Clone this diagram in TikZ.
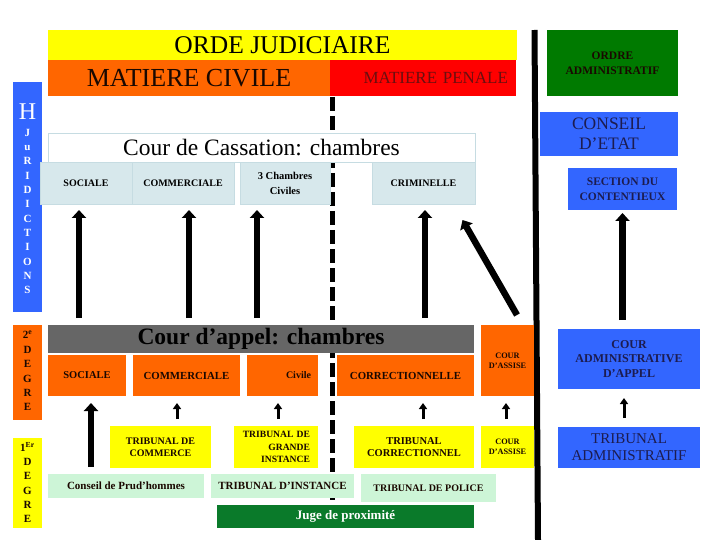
\documentclass[tikz,border=0pt]{standalone}
\usepackage{fontspec}
\setmainfont{Liberation Serif}
\usetikzlibrary{arrows.meta,calc}
\definecolor{cyel}{HTML}{FFFF00}
\definecolor{corg}{HTML}{FF6600}
\definecolor{cred}{HTML}{FF0000}
\definecolor{cgreen}{HTML}{007A00}
\definecolor{cblue}{HTML}{3366FF}
\definecolor{cgray}{HTML}{666666}
\definecolor{clb}{HTML}{D7E8EC}
\definecolor{cbord}{HTML}{C6DCE2}
\definecolor{clg}{HTML}{CDF5D7}
\definecolor{cjuge}{HTML}{0A7A2A}
\definecolor{cnavy}{HTML}{1C1C50}
\definecolor{cdark}{HTML}{1A0800}
\definecolor{cpen}{HTML}{6B0F0F}
\newcommand{\fsz}[2]{\fontsize{#1}{#2}\selectfont}
\begin{document}
\begin{tikzpicture}[x=1pt,y=-1pt,
  box/.style={anchor=north west, inner sep=0pt, outer sep=0pt, align=center},
  bigarr/.style={line width=6.5pt, -{Triangle[width=14pt,length=8pt]}},
  smallarr/.style={line width=3pt, -{Triangle[width=8pt,length=6pt]}},
  dashline/.style={line width=5pt, dash pattern=on 14pt off 5pt},
]
\useasboundingbox (0,0) rectangle (720,540);
\fill[white] (0,0) rectangle (720,540);

% ---- separators (behind the boxes)
\coordinate (vtop) at (534.5,30);
\coordinate (vbot) at (538,540);
\draw[line width=6pt] (vtop) -- (vbot);
\coordinate (dtop) at (332,97);
\coordinate (dbot) at (332,500);
\draw[dashline] (dtop) -- (dbot);

% ---- header
\node[box, fill=cyel, minimum width=469, minimum height=30, font=\fsz{25.5}{26}] (ordj) at (48,30) {ORDE JUDICIAIRE};
\node[box, fill=corg, minimum width=282, minimum height=36, font=\fsz{26}{27}, text=cdark] (civ) at (48,60) {MATIERE CIVILE};
\node[box, fill=cred, minimum width=186, minimum height=36, inner xsep=8pt, text width=170pt, align=right, font=\fsz{17}{18}, text=cpen] (pen) at (330,60) {MATIERE PENALE};

% ---- administrative side
\node[box, fill=cgreen, minimum width=131, minimum height=66, font=\bfseries\fsz{11.5}{15}, text=cdark] (oadm) at (547,30) {ORDRE\\ADMINISTRATIF};
\node[box, fill=cblue, minimum width=138, minimum height=44, font=\fsz{17.5}{20}, text=cnavy] (ce) at (540,112) {CONSEIL\\D’ETAT};
\node[box, fill=cblue, minimum width=109, minimum height=42, font=\bfseries\fsz{11.5}{15}, text=cnavy] (sect) at (568,168) {SECTION DU\\CONTENTIEUX};
\node[box, fill=cblue, minimum width=142, minimum height=60, font=\bfseries\fsz{12}{14.5}, text=cnavy] (cad) at (558,329) {COUR\\ADMINISTRATIVE\\D’APPEL};
\node[box, fill=cblue, minimum width=142, minimum height=41, font=\fsz{15}{17}, text=cnavy] (ta) at (558,427) {TRIBUNAL\\ADMINISTRATIF};

% ---- left column
\node[box, fill=cblue, minimum width=29, minimum height=230] (hcol) at (13,82) {};
\node[font=\fsz{24}{24}, text=white, inner sep=0pt] (hlet) at (27.5,112) {H};
\node[font=\bfseries\fsz{11}{14.3}, text=white, align=center, inner sep=0pt] (jur) at (27.5,211.5) {J\\u\\R\\I\\D\\I\\C\\T\\I\\O\\N\\S};
\node[box, fill=corg, minimum width=29, minimum height=95] (deg2) at (13,325) {};
\node[font=\bfseries\fsz{11}{14.4}, text=cdark, align=center, inner sep=0pt] (deg2t) at (27.5,371) {2\textsuperscript{e}\\D\\E\\G\\R\\E};
\node[box, fill=cyel, minimum width=29, minimum height=90] (deg1) at (13,438) {};
\node[font=\bfseries\fsz{11}{14.3}, text=cdark, align=center, inner sep=0pt] (deg1t) at (27.5,482.5) {1\textsuperscript{Er}\\D\\E\\G\\R\\E};

% ---- Cour de cassation
\node[box, fill=white, draw=cbord, minimum width=427, minimum height=29, font=\fsz{23.5}{24}] (cass) at (48,133) {Cour de Cassation: chambres};
\node[box, fill=clb, draw=cbord, minimum width=92, minimum height=42, font=\bfseries\fsz{10}{12}] (cassoc) at (40,162) {SOCIALE};
\node[box, fill=clb, draw=cbord, minimum width=102, minimum height=42, font=\bfseries\fsz{10}{12}] (cascom) at (132,162) {COMMERCIALE};
\node[box, fill=clb, draw=cbord, minimum width=90, minimum height=42, font=\bfseries\fsz{10.5}{15}] (casciv) at (240,162) {3 Chambres\\Civiles};
\node[box, fill=clb, draw=cbord, minimum width=103, minimum height=42, font=\bfseries\fsz{10}{12}] (cascrim) at (372,162) {CRIMINELLE};

% ---- Cour d'appel
\node[box, fill=cgray, minimum width=426, minimum height=28, font=\bfseries\fsz{23.5}{24}, text=black] (appel) at (48,325) {Cour d’appel: chambres};
\node[box, fill=corg, minimum width=78, minimum height=41, font=\bfseries\fsz{10.5}{12}, text=cdark] (appsoc) at (48,355) {SOCIALE};
\node[box, fill=corg, minimum width=107, minimum height=41, font=\bfseries\fsz{10.8}{12}, text=cdark] (appcom) at (133,355) {COMMERCIALE};
\node[box, fill=corg, minimum width=71, minimum height=41, inner xsep=7pt, text width=57pt, align=right, font=\bfseries\fsz{10}{12}, text=cdark] (appciv) at (247,355) {Civile};
\node[box, fill=corg, minimum width=137, minimum height=41, font=\bfseries\fsz{10.8}{12}, text=cdark] (appcor) at (337,355) {CORRECTIONNELLE};
\node[box, fill=corg, minimum width=53, minimum height=71, font=\bfseries\fsz{8.3}{10}, text=cdark] (assise1) at (481,325) {COUR\\D’ASSISE};

% ---- premier degre
\node[box, fill=cyel, minimum width=101, minimum height=42, font=\bfseries\fsz{10}{12.5}, text=cdark] (tc) at (110,426) {TRIBUNAL DE\\COMMERCE};
\node[box, fill=cyel, minimum width=84, minimum height=42, inner xsep=8pt, text width=68pt, align=right, font=\bfseries\fsz{9.6}{12.8}, text=cdark] (tgi) at (234,426) {TRIBUNAL DE\\GRANDE\\INSTANCE};
\node[box, fill=cyel, minimum width=120, minimum height=42, font=\bfseries\fsz{10.5}{12.5}, text=cdark] (tcorr) at (354,426) {TRIBUNAL\\CORRECTIONNEL};
\node[box, fill=cyel, minimum width=53, minimum height=42, font=\bfseries\fsz{8.3}{10}, text=cdark] (assise2) at (481,426) {COUR\\D’ASSISE};
\node[box, fill=clg, minimum width=156, minimum height=24, font=\bfseries\fsz{11}{12}, text=cdark] (prud) at (48,474) {Conseil de Prud’hommes};
\node[box, fill=clg, minimum width=143, minimum height=24, font=\bfseries\fsz{11}{12}, text=cdark] (ti) at (211,474) {TRIBUNAL D’INSTANCE};
\node[box, fill=clg, minimum width=135, minimum height=28, font=\bfseries\fsz{10}{12}, text=cdark] (tpol) at (361,474) {TRIBUNAL DE POLICE};
\node[box, fill=cjuge, minimum width=257, minimum height=23, font=\bfseries\fsz{13}{15}, text=white] (juge) at (217,505) {Juge de proximité};

% ---- arrows cour d'appel -> cassation
\coordinate (a1) at ([xshift=-7pt,yshift=-6pt]cassoc.south);
\coordinate (a2) at ([xshift=6pt,yshift=-6pt]cascom.south);
\coordinate (a3) at ([xshift=-28pt,yshift=-6pt]casciv.south);
\coordinate (a4) at ([xshift=1.5pt,yshift=-6pt]cascrim.south);
\foreach \c in {a1,a2,a3,a4}
  \draw[bigarr] ($(appel.north -| \c)+(0,-7)$) -- (\c);
\draw[bigarr] ($(assise1.north)+(9.5,-10)$) -- ($(cascrim.south east)+(-12.5,16)$);

% ---- arrows premier degre -> appel
\coordinate (b1) at ([xshift=4pt,yshift=-7pt]appsoc.south);
\draw[bigarr] ($(prud.north -| b1)+(0,-7)$) -- (b1);
\coordinate (b2) at ([xshift=-9.5pt,yshift=-7pt]appcom.south);
\coordinate (b3) at ([xshift=-4.5pt,yshift=-7pt]appciv.south);
\coordinate (b4) at ([xshift=17.5pt,yshift=-7pt]appcor.south);
\coordinate (b5) at ([xshift=-1.5pt,yshift=-7pt]assise1.south);
\draw[smallarr] ($(tc.north -| b2)+(0,-7)$) -- (b2);
\draw[smallarr] ($(tgi.north -| b3)+(0,-7)$) -- (b3);
\draw[smallarr] ($(tcorr.north -| b4)+(0,-7)$) -- (b4);
\draw[smallarr] ($(assise2.north -| b5)+(0,-7)$) -- (b5);

% ---- administrative arrows
\coordinate (c1) at ([yshift=-3pt]sect.south);
\draw[bigarr] ($(cad.north -| c1)+(0,-9)$) -- (c1);
\coordinate (c2) at ([xshift=-5pt,yshift=-9pt]cad.south);
\draw[smallarr] ($(ta.north -| c2)+(0,-9)$) -- (c2);
\end{tikzpicture}
\end{document}
